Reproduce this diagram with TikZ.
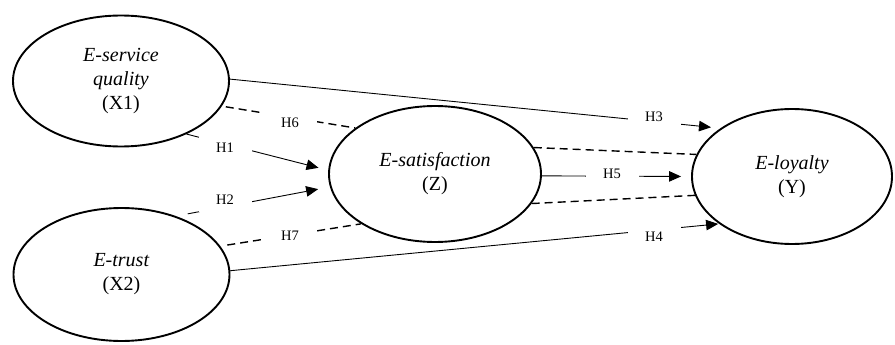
\documentclass[tikz,border=0pt]{standalone}
\usepackage{fontspec}
\setmainfont{Liberation Serif}
\usetikzlibrary{arrows.meta,shapes.geometric}
\begin{document}
\begin{tikzpicture}[x=1pt,y=-1pt,
  var/.style={ellipse, draw, line width=1.9pt, inner sep=0pt, align=center,
    font=\fontsize{20}{24}\selectfont},
  direct/.style={line width=0.9pt, -{Triangle[length=12pt,width=10.5pt]}},
  mediated/.style={line width=1.4pt, dash pattern=on 8pt off 5pt},
  hyp/.style={fill=white, inner sep=0pt, minimum width=53pt, minimum height=24pt,
    font=\fontsize{14.5}{16}\selectfont}]
\useasboundingbox (0,0) rectangle (895,345);

\node[var, minimum width=216pt, minimum height=131pt] (x1) at (121,81)
  {\textit{E-service}\\\textit{quality}\\(X1)};
\node[var, minimum width=216pt, minimum height=133pt] (x2) at (121.5,274.5)
  {\textit{E-trust}\\(X2)};
\node[var, minimum width=212pt, minimum height=136pt] (z) at (435,174)
  {\textit{E-satisfaction}\\(Z)};
\node[var, minimum width=200pt, minimum height=135pt] (y) at (792,176.5)
  {\textit{E-loyalty}\\(Y)};

% direct paths
\draw[direct, shorten >=9.5pt] (x1.1) -- (y.146.8);
\draw[direct, shorten >=1pt] (x2.2.9) -- (y.213.6);
\draw[direct, shorten >=10pt] (z.-1) -- (y.180);
\draw[direct, shorten >=10pt] (x1.-39.3) -- (z.178.1);
\draw[direct, shorten <=12pt, shorten >=12pt] (x2.47.9) -- (z.187);

% mediated paths
\draw[mediated, shorten <=4pt] (x1.-14.1) -- (z.150.5);
\draw[mediated, shorten <=7pt] (x2.16.8) -- (z.214.6);
\draw[mediated] (z.15.9) -- (y.167.9);
\draw[mediated] (z.-17) -- (y.191.6);

% hypothesis labels
\node[hyp] (h1) at (225,148) {H1};
\node[hyp] (h2) at (225,200) {H2};
\node[hyp] (h3) at (654,117) {H3};
\node[hyp] (h4) at (654,237) {H4};
\node[hyp] (h5) at (612,174) {H5};
\node[hyp] (h6) at (290,123) {H6};
\node[hyp] (h7) at (290,236) {H7};
\end{tikzpicture}
\end{document}
